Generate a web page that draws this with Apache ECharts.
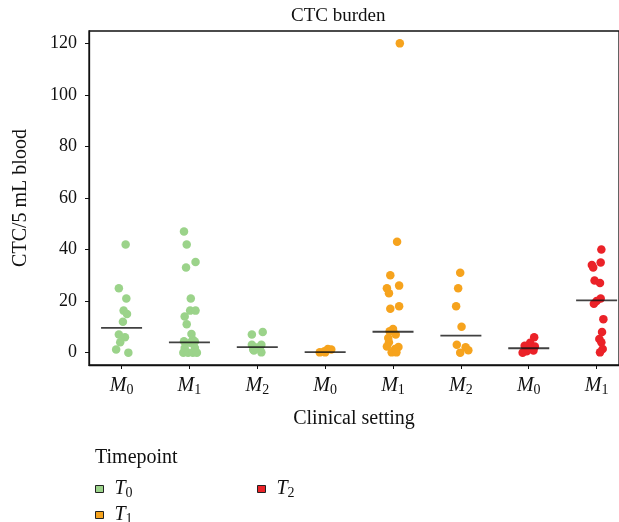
<!DOCTYPE html>
<html>
<head>
<meta charset="utf-8">
<script src="https://cdn.jsdelivr.net/npm/echarts@6/dist/echarts.min.js"></script>
<style>
  html, body { margin: 0; padding: 0; background: #fff; }
  #chart { width: 619px; height: 522px; }
</style>
</head>
<body>
<div id="chart"></div>
<script>
// clinical setting of each column, and which timepoint it belongs to
const categories = ['M0', 'M1', 'M2', 'M0', 'M1', 'M2', 'M0', 'M1'];
const timepoints = ['T0', 'T1', 'T2'];
const groupTime = [0, 0, 0, 1, 1, 1, 2, 2];

// CTC counts per column
const t0m0 = [42, 25, 21, 16.3, 15, 12, 7, 6, 4, 1.2, 0];
const t0m1 = [47, 42, 35.2, 33, 21, 16.3, 16.3, 14, 11, 7.2, 5, 4.4, 3.8, 4.3, 1.8, 1.8, 0, 0, 0, 0];
const t0m2 = [8, 7, 3.1, 3.1, 2, 2, 1.2, 0.8, 0.1];
const t1m0 = [1.4, 1.2, 0.5, 0.1, 0.1];
const t1m1 = [120, 43, 30, 26, 25, 23, 18, 17, 9.2, 8.3, 7, 5.7, 4, 2.4, 2.2, 1.4, 0.1, 0.1];
const t1m2 = [31, 25, 18, 10, 3.1, 2.1, 0.9, 0];
const t2m0 = [6, 3.8, 2.7, 2.4, 1.4, 0.8, 0.5, 0];
const t2m1 = [40, 35, 34, 33, 28, 27, 21, 20, 19, 13, 8, 5.3, 4, 1.4, 0.1];

// horizontal jitter of each dot (fraction of a column)
const j0 = [0.06, -0.04, 0.07, 0.03, 0.08, 0.02, -0.04, 0.05, -0.02, -0.08, 0.10];
const j1 = [-0.08, -0.04, 0.09, -0.05, 0.02, 0.01, 0.09, -0.07, -0.04, 0.03, 0.05, -0.08, 0.01, 0.08, -0.07, 0.08, -0.09, -0.02, 0.05, 0.11];
const j2 = [0.08, -0.08, -0.08, 0.06, 0.04, -0.01, -0.06, -0.05, 0.06];
const j3 = [0.04, 0.09, -0.01, -0.08, 0];
const j4 = [0.10, 0.06, -0.04, 0.09, -0.09, -0.06, 0.09, -0.04, 0, -0.05, 0.04, -0.07, -0.06, -0.09, 0.08, 0.03, -0.02, 0.05];
const j5 = [-0.01, -0.04, -0.07, 0.01, -0.06, 0.07, 0.11, -0.01];
const j6 = [0.08, 0.02, -0.06, 0.09, 0.02, 0.07, -0.03, -0.09];
const j7 = [0.07, 0.06, -0.07, -0.05, -0.03, 0.05, 0.06, 0, -0.04, 0.10, 0.08, 0.04, 0.07, 0.09, 0.05];

// median bar of each column
const medians = [9.6, 4.0, 2.1, 0.2, 8.1, 6.6, 1.7, 20.3];

const yTicks = [0, 20, 40, 60, 80, 100, 120];

const groups = [t0m0, t0m1, t0m2, t1m0, t1m1, t1m2, t2m0, t2m1];
const jitters = [j0, j1, j2, j3, j4, j5, j6, j7];
const colors = ['#9bd38a', '#f6a31d', '#eb2228'];
const serif = 'Liberation Serif';

const subRich = {
    i: { fontFamily: serif, fontStyle: 'italic', fontSize: 20, color: '#111', lineHeight: 23 },
    s: { fontFamily: serif, fontSize: 14, color: '#111', lineHeight: 14, verticalAlign: 'bottom' }
};

const series = timepoints.map((tp, t) => {
    let data = [];
    groups.forEach((vals, g) => {
        if (groupTime[g] !== t) return;
        vals.forEach((v, k) => data.push([g + jitters[g][k], v]));
    });
    return {
        name: tp,
        type: 'scatter',
        data: data,
        symbolSize: 8.5,
        itemStyle: { color: colors[t], opacity: 1 },
        z: 2
    };
});
series.push({
    name: 'median',
    type: 'scatter',
    data: medians.map((m, g) => [g, m]),
    symbol: 'rect',
    symbolSize: [41, 1.8],
    itemStyle: { color: '#111' },
    z: 5,
    silent: true
});

const legendItem = (name, left, top) => ({
    left: left, top: top,
    orient: 'horizontal',
    itemWidth: 8, itemHeight: 7, itemGap: 0,
    data: [{ name: name, icon: 'rect', itemStyle: { borderColor: '#222', borderWidth: 1 } }],
    formatter: n => '{i|T}{s|' + n.slice(1) + '}',
    textStyle: { rich: subRich, padding: [0, 0, 0, 6] },
    selectedMode: false
});

const chart = echarts.init(document.getElementById('chart'), null, { renderer: 'canvas' });
chart.setOption({
    backgroundColor: '#fff',
    animation: false,
    title: [
        { text: 'CTC burden', left: 286, top: 2,
          textStyle: { fontFamily: serif, fontWeight: 'normal', fontSize: 19, color: '#111' } },
        { text: 'Timepoint', left: 90, top: 443,
          textStyle: { fontFamily: serif, fontWeight: 'normal', fontSize: 20, color: '#111' } }
    ],
    legend: [
        legendItem('T0', 90, 474),
        legendItem('T2', 252, 474),
        legendItem('T1', 90, 500)
    ],
    grid: {
        left: 89, right: 0, top: 31, bottom: 157,
        show: true, borderColor: '#111', borderWidth: 1.3
    },
    xAxis: {
        type: 'value',
        min: -0.48, max: 7.33,
        splitLine: { show: false },
        axisLine: { show: true, onZero: false, lineStyle: { color: '#111', width: 1.3 } },
        axisTick: { show: true, customValues: categories.map((c, i) => i), length: 4,
                    lineStyle: { color: '#111' } },
        axisLabel: {
            customValues: categories.map((c, i) => i),
            margin: 9,
            formatter: v => '{i|M}{s|' + categories[Math.round(v)].slice(1) + '}',
            rich: subRich
        },
        name: 'Clinical setting',
        nameLocation: 'middle',
        nameGap: 44,
        nameTextStyle: { fontFamily: serif, fontSize: 20, color: '#111' }
    },
    yAxis: {
        type: 'value',
        min: -4.8, max: 124.8,
        splitLine: { show: false },
        axisLine: { show: true, onZero: false, lineStyle: { color: '#111', width: 1.3 } },
        axisTick: { show: true, customValues: yTicks, length: 4, lineStyle: { color: '#111' } },
        axisLabel: {
            customValues: yTicks,
            margin: 12,
            fontFamily: serif, fontSize: 18, color: '#111'
        },
        name: 'CTC/5 mL blood',
        nameLocation: 'middle',
        nameGap: 58,
        nameTextStyle: { fontFamily: serif, fontSize: 20, color: '#111' }
    },
    series: series
});
</script>
</body>
</html>
